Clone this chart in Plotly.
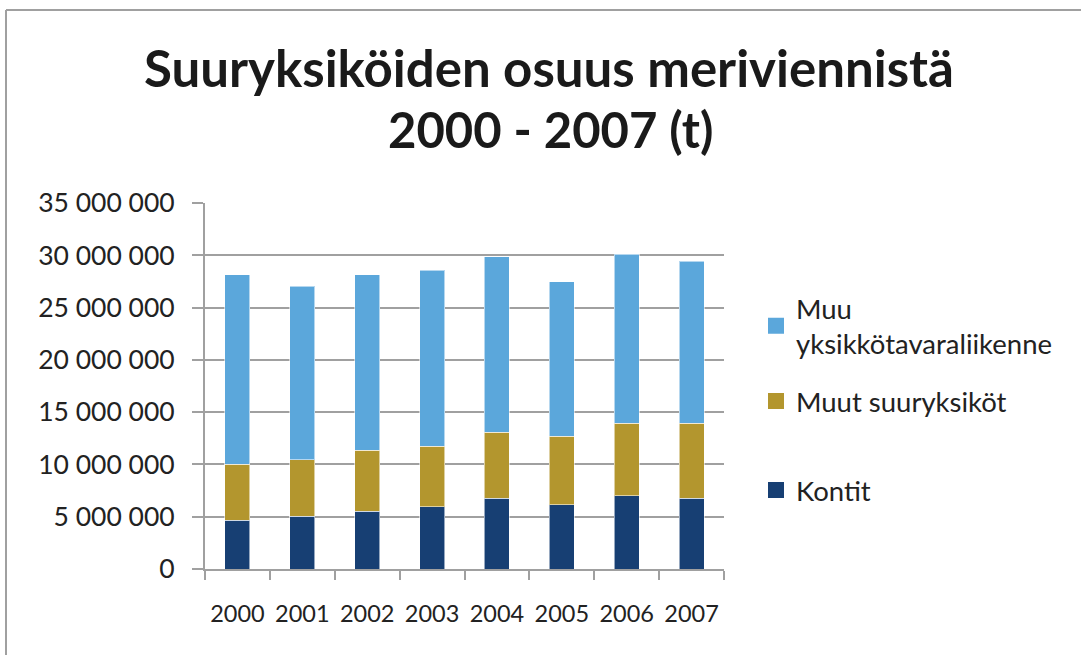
import plotly.graph_objects as go

# Vuosittaiset meriviennin määrät (tonnia)
years = ["2000", "2001", "2002", "2003", "2004", "2005", "2006", "2007"]
kontit = [4_650_000, 5_030_000, 5_510_000, 5_930_000, 6_790_000, 6_150_000, 7_010_000, 6_790_000]
muut_suuryksikot = [5_350_000, 5_420_000, 5_830_000, 5_830_000, 6_280_000, 6_530_000, 6_920_000, 7_140_000]
muu_yksikkotavara = [18_120_000, 16_580_000, 16_780_000, 16_800_000, 16_770_000, 14_800_000, 16_170_000, 15_490_000]

y_ticks = [0, 5_000_000, 10_000_000, 15_000_000, 20_000_000, 25_000_000, 30_000_000, 35_000_000]

NAVY = "#173F73"
GOLD = "#B3962E"
LIGHT = "#5BA7DB"
GRID = "#A0A0A0"
FONT = "Lato"

# Plot-area pixel geometry (used to place frame, title and legends)
W, H = 1081, 655
L, R, T, B = 205, 724, 203, 569


def px_x(x):
    return (x - L) / (R - L)


def px_y(y):
    return (B - y) / (B - T)


edge = dict(color="rgba(255,255,255,0.55)", width=1)

series = [
    ("Kontit", kontit, NAVY, "legend3"),
    ("Muut suuryksiköt", muut_suuryksikot, GOLD, "legend2"),
    ("Muu<br>yksikkötavaraliikenne", muu_yksikkotavara, LIGHT, "legend"),
]

fig = go.Figure()
for name, values, color, _ in series:
    fig.add_trace(go.Bar(x=years, y=values, name=name,
                         marker=dict(color=color, line=edge), showlegend=False))

# Legend entries with larger square swatches
for name, _, color, leg in series:
    fig.add_trace(go.Scatter(x=[None], y=[None], mode="markers", name=name,
                             marker=dict(symbol="square", size=17, color=color),
                             showlegend=True, legend=leg, hoverinfo="skip"))

legend_common = dict(
    xref="paper", yref="paper", xanchor="left", yanchor="middle",
    font=dict(family=FONT, size=27.5, color="#222222"),
    bgcolor="rgba(0,0,0,0)", itemsizing="trace", itemwidth=30,
)

fig.update_layout(
    width=W, height=H,
    barmode="stack",
    bargap=0.615,
    separators=", ",
    showlegend=True,
    plot_bgcolor="white",
    paper_bgcolor="white",
    margin=dict(l=L, r=W - R, t=T, b=H - B, pad=0),
    font=dict(family=FONT, color="#222222"),
    xaxis=dict(
        type="category",
        categoryorder="array", categoryarray=years,
        showgrid=False,
        showline=True, linecolor=GRID, linewidth=2,
        ticks="outside", tickson="boundaries", ticklen=9, tickwidth=2, tickcolor=GRID,
        tickfont=dict(family=FONT, size=23.5, color="#222222"),
        ticklabelstandoff=23,
        fixedrange=True,
    ),
    yaxis=dict(
        range=[0, 35_000_000],
        tickvals=y_ticks,
        tickformat=",d",
        showgrid=True, gridcolor=GRID, gridwidth=2,
        zeroline=False,
        showline=True, linecolor=GRID, linewidth=2,
        ticks="outside", ticklen=11, tickwidth=2, tickcolor=GRID,
        tickfont=dict(family=FONT, size=26.5, color="#222222"),
        ticklabelstandoff=12,
        fixedrange=True,
    ),
    legend=dict(x=px_x(756), y=px_y(326), **legend_common),
    legend2=dict(x=px_x(756), y=px_y(401), **legend_common),
    legend3=dict(x=px_x(756), y=px_y(490), **legend_common),
    annotations=[
        dict(text="<b>Suuryksiköiden osuus meriviennistä</b>",
             xref="paper", yref="paper", x=px_x(549), y=px_y(67),
             xanchor="center", yanchor="middle", showarrow=False,
             font=dict(family=FONT, size=51, color="#1a1a1a")),
        dict(text="<b>2000 - 2007 (t)</b>",
             xref="paper", yref="paper", x=px_x(551), y=px_y(129),
             xanchor="center", yanchor="middle", showarrow=False,
             font=dict(family=FONT, size=49, color="#1a1a1a")),
    ],
    shapes=[
        # outer chart frame (top and left edges)
        dict(type="line", xref="paper", yref="paper", layer="below",
             x0=px_x(6), y0=px_y(10), x1=px_x(W + 5), y1=px_y(10),
             line=dict(color=GRID, width=2)),
        dict(type="line", xref="paper", yref="paper", layer="below",
             x0=px_x(6), y0=px_y(10), x1=px_x(6), y1=px_y(H + 5),
             line=dict(color=GRID, width=2)),
    ],
)

fig.write_html("out.html")
